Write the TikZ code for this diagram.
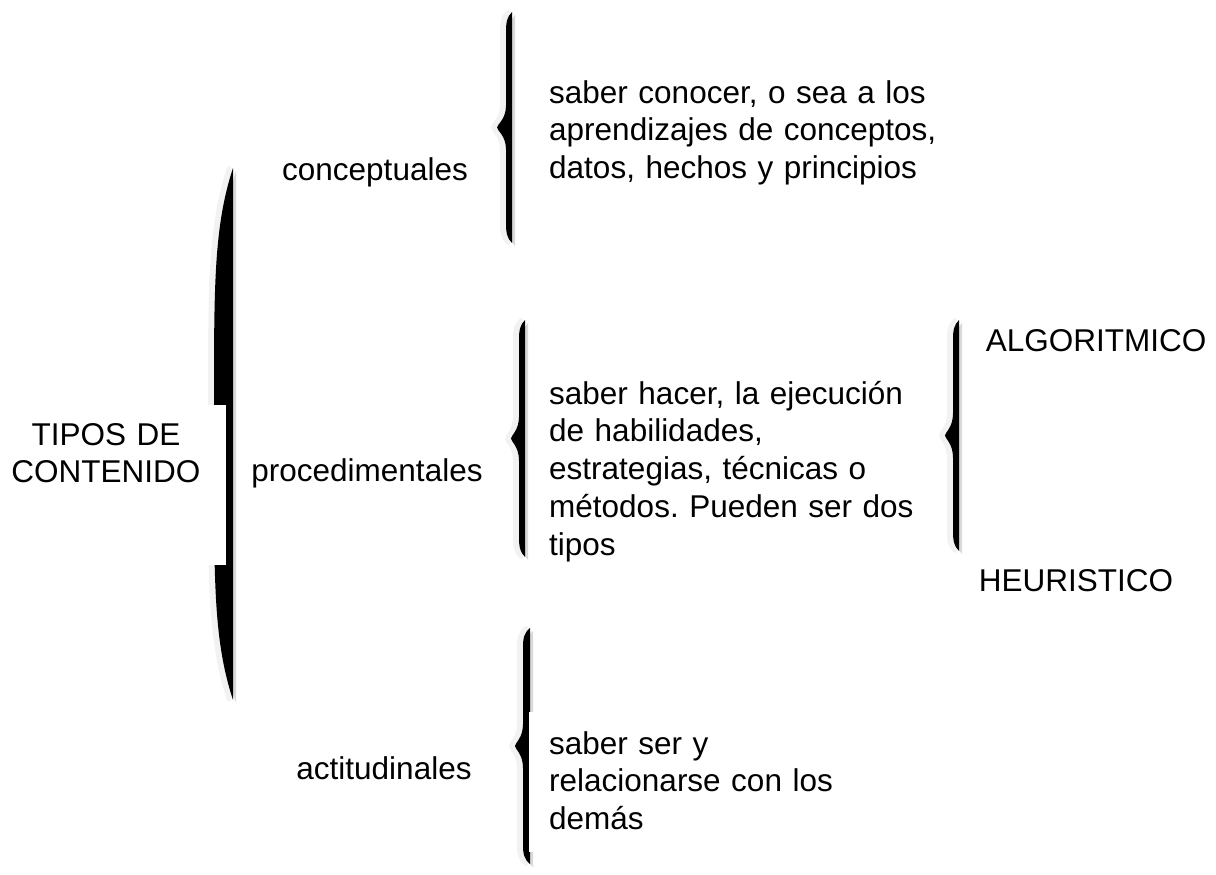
\documentclass[tikz,border=0pt]{standalone}
\usepackage{fontspec}
\setmainfont{Liberation Sans}
\frenchspacing
\tikzset{
  llave sombra/.style={fill=gray!30},
  llave halo/.style={fill=gray!10, draw=gray!10, line width=4pt, line join=round},
  llave negra/.style={fill=black},
  bloque/.style={anchor=base west, text width=400pt, align=left, inner sep=0pt},
  rotulo/.style={anchor=base, inner sep=0pt}
}
\newcommand{\llave}[6]{%
  \pgfmathsetmacro\lx{#1-#4}%
  \pgfmathsetmacro\ly{(#2+#3)/2}%
  \def\llavecamino{(#1,#2) -- (#1,#3)
    .. controls (\lx+1,#3-#6/4) and (\lx,#3-#6/2) .. (\lx,#3-#6)
    -- (\lx,\ly+22)
    .. controls (\lx,\ly+8) and (\lx-#5,\ly+3) .. (\lx-#5,\ly)
    .. controls (\lx-#5,\ly-3) and (\lx,\ly-8) .. (\lx,\ly-22)
    -- (\lx,#2+#6)
    .. controls (\lx,#2+#6/2) and (\lx+1,#2+#6/4) .. cycle}%
  \fill[llave sombra, shift={(3,3)}] \llavecamino;
  \filldraw[llave halo, shift={(-4,0)}] \llavecamino;
  \fill[llave negra] \llavecamino;
}
\begin{document}
\begin{tikzpicture}[x=1pt, y=-1pt, font=\fontsize{31.5pt}{37.8pt}\selectfont]
  \useasboundingbox (0,0) rectangle (1216,875);
  \llave{233}{168}{700}{19}{14}{220}
  \llave{512}{12}{243}{6}{9}{20}
  \llave{525}{320}{557}{6}{8}{20}
  \llave{530}{628}{864}{7}{8}{20}
  \llave{959}{320}{551}{6}{8}{20}
  \fill[white] (0,405) rectangle (226,565);
  \fill[white] (529,712) rectangle (900,852);
  \node[rotulo, text width=220pt, align=center] (tipos) at (106,445) {TIPOS DE\\CONTENIDO};
  \node[rotulo] (conceptuales) at (375,180) {conceptuales};
  \node[rotulo] (procedimentales) at (367,481) {procedimentales};
  \node[rotulo] (actitudinales) at (384,779) {actitudinales};
  \node[bloque] (conocer) at (549,103) {saber conocer, o sea a los\\aprendizajes de conceptos,\\datos, hechos y principios};
  \node[bloque] (hacer) at (549,404) {saber hacer, la ejecución\\de habilidades,\\estrategias, técnicas o\\métodos. Pueden ser dos\\tipos};
  \node[bloque] (ser) at (549,754) {saber ser y\\relacionarse con los\\demás};
  \node[rotulo] (algoritmico) at (1096,351) {ALGORITMICO};
  \node[rotulo] (heuristico) at (1076,591) {HEURISTICO};
\end{tikzpicture}
\end{document}
